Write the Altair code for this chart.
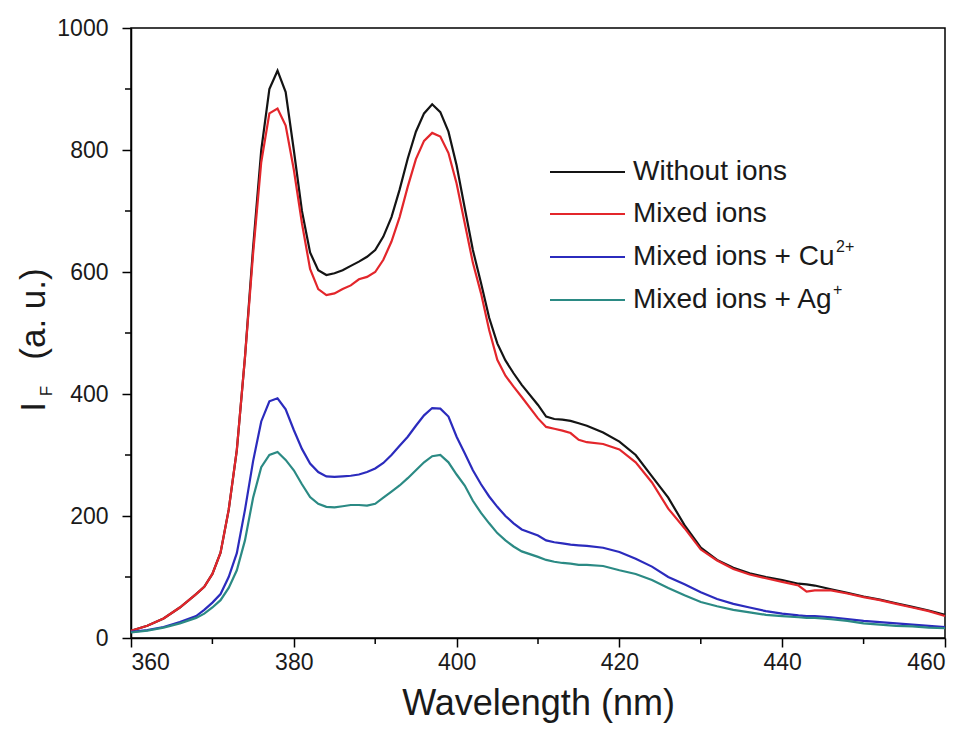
import altair as alt
import pandas as pd

# Emission wavelength grid (nm)
wavelength = [360, 362, 364, 366, 368, 369, 370, 371, 372, 373, 374, 375, 376, 377, 378, 379,
              380, 381, 382, 383, 384, 385, 386, 387, 388, 389, 390, 391, 392, 393, 394, 395,
              396, 397, 398, 399, 400, 401, 402, 403, 404, 405, 406, 407, 408, 410, 411, 412,
              413, 414, 415, 416, 418, 420, 422, 424, 426, 428, 430, 432, 434, 436, 438, 440,
              442, 443, 444, 446, 448, 450, 452, 454, 456, 458, 460]

without_ions = [12, 20, 32, 50, 72, 84, 105, 140, 210, 308, 460, 640, 800, 900, 930, 895,
                800, 700, 632, 603, 595, 598, 603, 610, 617, 625, 636, 658, 690, 735, 786, 830,
                860, 875, 862, 830, 775, 705, 636, 582, 525, 483, 455, 434, 415, 382, 363, 359,
                358, 356, 352, 348, 337, 322, 300, 265, 230, 185, 148, 128, 115, 106, 100, 95,
                89, 88, 86, 80, 74, 68, 63, 57, 51, 45, 38]

mixed_ions = [12, 20, 32, 50, 72, 84, 105, 140, 210, 308, 460, 630, 780, 860, 868, 840,
              768, 680, 605, 572, 562, 565, 572, 578, 588, 592, 600, 620, 650, 690, 740, 785,
              815, 828, 822, 795, 745, 680, 615, 565, 505, 456, 430, 412, 395, 360, 346, 343,
              340, 336, 325, 321, 318, 309, 288, 255, 212, 180, 145, 127, 113, 104, 98, 92,
              86, 76, 78, 78, 73, 67, 62, 56, 50, 44, 36]

mixed_cu = [10, 13, 18, 26, 36, 46, 58, 72, 100, 139, 210, 290, 355, 388, 393, 375,
            341, 310, 286, 272, 265, 264, 265, 266, 268, 272, 278, 287, 300, 315, 330, 348,
            365, 377, 376, 363, 330, 303, 275, 252, 232, 215, 200, 188, 178, 168, 160, 157,
            155, 153, 152, 151, 148, 141, 130, 117, 100, 88, 75, 64, 56, 50, 44, 40,
            37, 36, 36, 34, 31, 28, 26, 24, 22, 20, 18]

mixed_ag = [9, 12, 17, 24, 33, 40, 50, 62, 82, 111, 160, 230, 280, 300, 305, 292,
            275, 252, 231, 220, 215, 214, 216, 218, 218, 217, 220, 230, 240, 250, 262, 275,
            288, 298, 300, 288, 268, 250, 225, 205, 188, 172, 160, 150, 142, 133, 128, 125,
            123, 122, 120, 120, 118, 111, 105, 95, 82, 70, 59, 52, 46, 42, 38, 36,
            34, 33, 33, 31, 28, 24, 22, 20, 19, 17, 16]

series_names = ["Without ions", "Mixed ions", "Mixed ions + Cu", "Mixed ions + Ag"]
series_sup = ["", "", "2+", "+"]
series_colors = ["#141414", "#e3262b", "#2b2bbd", "#2b8a84"]
series_values = [without_ions, mixed_ions, mixed_cu, mixed_ag]

x_major = [360, 380, 400, 420, 440, 460]
x_minor = [370, 390, 410, 430, 450]
y_major = [0, 200, 400, 600, 800, 1000]
y_minor = [100, 300, 500, 700, 900]

for vals in series_values:
    assert len(vals) == len(wavelength)

rows = []
for name, vals in zip(series_names, series_values):
    for w, v in zip(wavelength, vals):
        rows.append({"wavelength": w, "intensity": v, "series": name})
df = pd.DataFrame(rows)

W, H = 814, 610
FONT = "Liberation Sans"

x_scale = alt.Scale(domain=[360, 460], nice=False, zero=False)
y_scale = alt.Scale(domain=[0, 1000], nice=False)

lines = alt.Chart(df).mark_line(strokeWidth=2.2).encode(
    x=alt.X("wavelength:Q", scale=x_scale,
            axis=alt.Axis(values=x_major, title="Wavelength (nm)", format="d")),
    y=alt.Y("intensity:Q", scale=y_scale,
            axis=alt.Axis(values=y_major, title=None, format="d")),
    color=alt.Color("series:N", scale=alt.Scale(domain=series_names, range=series_colors),
                    legend=None),
    order=alt.Order("wavelength:Q"),
)

# minor tick marks on both axes
x_minor_ticks = alt.Chart(pd.DataFrame({"v": x_minor})).mark_rule(
    color="black", strokeWidth=1.5).encode(
    x=alt.X("v:Q", scale=x_scale), y=alt.value(H), y2=alt.value(H + 6))
y_minor_ticks = alt.Chart(pd.DataFrame({"v": y_minor})).mark_rule(
    color="black", strokeWidth=1.5).encode(
    y=alt.Y("v:Q", scale=y_scale), x=alt.value(0), x2=alt.value(-6))

# y axis title: I with subscript F, then (a. u.)
one = pd.DataFrame({"k": [0]})
ytitle_i = alt.Chart(one).mark_text(
    text="I", font=FONT, fontSize=35, angle=270, align="center", baseline="middle",
    color="#1a1a1a").encode(x=alt.value(34 - 131), y=alt.value(407 - 28))
ytitle_f = alt.Chart(one).mark_text(
    text="F", font=FONT, fontSize=17, angle=270, align="center", baseline="middle",
    color="#1a1a1a").encode(x=alt.value(47 - 131), y=alt.value(391 - 28))
ytitle_rest = alt.Chart(one).mark_text(
    text="(a. u.)", font=FONT, fontSize=35, angle=270, align="center", baseline="middle",
    color="#1a1a1a").encode(x=alt.value(34 - 131), y=alt.value(314 - 28))

# legend drawn inside the plot area
legend_layers = []
row_y = [172, 214, 257, 300]
sup_x = [0, 0, 836, 833]
for i, name in enumerate(series_names):
    ly = row_y[i] - 28
    legend_layers.append(alt.Chart(one).mark_rule(
        color=series_colors[i], strokeWidth=2.2).encode(
        x=alt.value(550 - 131), x2=alt.value(625 - 131), y=alt.value(ly)))
    legend_layers.append(alt.Chart(one).mark_text(
        text=name, font=FONT, fontSize=28, align="left", baseline="middle",
        color="#1a1a1a").encode(x=alt.value(633 - 131), y=alt.value(ly)))
    if series_sup[i]:
        legend_layers.append(alt.Chart(one).mark_text(
            text=series_sup[i], font=FONT, fontSize=16, align="left", baseline="middle",
            color="#1a1a1a").encode(x=alt.value(sup_x[i] - 131), y=alt.value(ly - 10)))

chart = alt.layer(
    lines, x_minor_ticks, y_minor_ticks, ytitle_i, ytitle_f, ytitle_rest, *legend_layers
).properties(
    width=W, height=H,
    autosize=alt.AutoSizeParams(type="none"),
    padding={"left": 131, "top": 28, "right": 30, "bottom": 102},
    background="white",
).configure_view(
    stroke="black", strokeWidth=1.5
).configure_axis(
    grid=False, domainColor="black", domainWidth=1.5, tickColor="black", tickWidth=1.5,
    tickSize=9, labelFont=FONT, labelFontSize=23, labelColor="#1a1a1a",
    titleFont=FONT, titleFontSize=36, titleFontWeight="normal", titleColor="#1a1a1a",
).configure_axisX(
    labelPadding=4, titlePadding=12
).configure_axisY(
    labelPadding=14
)

chart.save("out.html", embed_options={"renderer": "svg", "actions": False})
